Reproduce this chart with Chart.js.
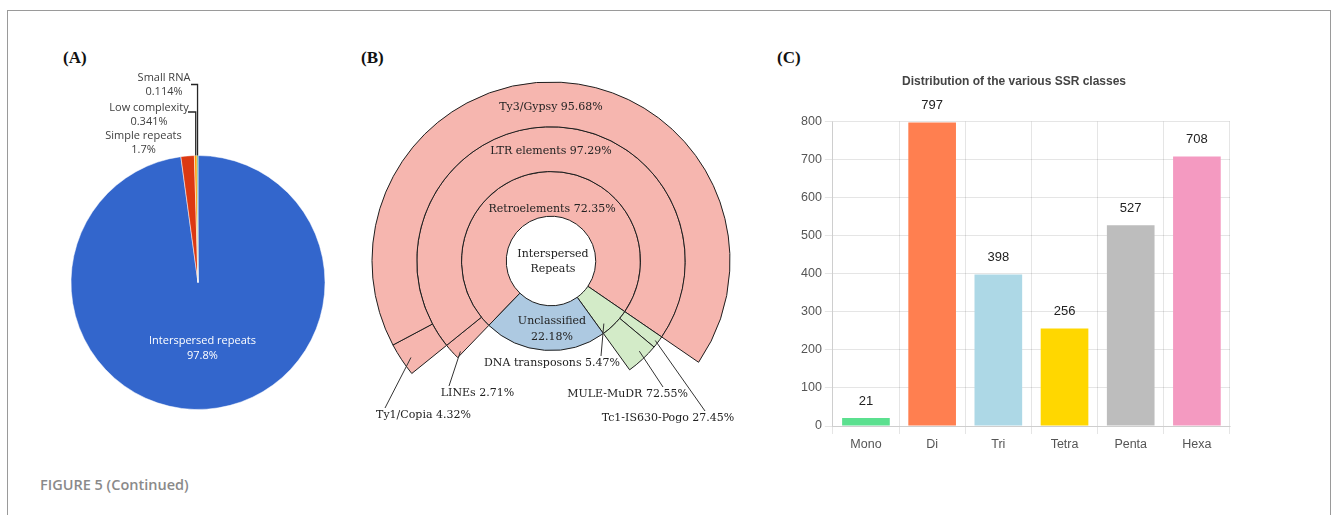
<!DOCTYPE html>
<html>
<head>
<meta charset="utf-8">
<script src="https://cdn.jsdelivr.net/npm/chart.js@4.4.1/dist/chart.umd.min.js"></script>
<style>
  html, body { margin: 0; padding: 0; background: #fff; }
  body { width: 1331px; height: 515px; position: relative; overflow: hidden; }
  .frame { position: absolute; left: 7px; top: 10px; width: 1324px; height: 520px;
           border: 1px solid #9a9a9a; border-bottom: none; box-sizing: border-box; }
  .tag { position: absolute; font: bold 17px "Liberation Serif", "Times New Roman", serif; color: #111; line-height: 20px; }
  .caption { position: absolute; left: 40px; top: 475px; font: 600 14.5px "Open Sans", sans-serif; color: #8a8a8a; }
  canvas { position: absolute; }
</style>
</head>
<body>
<div class="frame"></div>
<div class="tag" style="left:63px;top:48px;">(A)</div>
<div class="tag" style="left:361px;top:48px;">(B)</div>
<div class="tag" style="left:777px;top:48px;">(C)</div>
<div class="caption">FIGURE 5 (Continued)</div>

<canvas id="pieA" width="330" height="440" style="left:10px;top:40px;"></canvas>
<canvas id="sunB" width="395" height="440" style="left:355px;top:40px;"></canvas>
<canvas id="barC" width="470" height="410" style="left:780px;top:62px;"></canvas>

<script>
// ---------- (A) repeat composition ----------
const repeatClasses = ['Interspersed repeats', 'Simple repeats', 'Low complexity', 'Small RNA'];
const repeatShares  = [97.8, 1.7, 0.341, 0.114];
const repeatColors  = ['#3366cc', '#dc3912', '#ff9900', '#109618'];

// ---------- (B) interspersed repeat hierarchy ----------
const classNames = ['Retroelements', 'DNA transposons', 'Unclassified'];
const classPct   = [72.35, 5.47, 22.18];
const retroNames = ['LINEs', 'LTR elements'];
const retroPct   = [2.71, 97.29];
const dnaNames   = ['Tc1-IS630-Pogo', 'MULE-MuDR'];
const dnaPct     = [27.45, 72.55];
const ltrNames   = ['Ty1/Copia', 'Ty3/Gypsy'];
const ltrPct     = [4.32, 95.68];

// ---------- (C) SSR classes ----------
const ssrClasses = ['Mono', 'Di', 'Tri', 'Tetra', 'Penta', 'Hexa'];
const ssrCounts  = [21, 797, 398, 256, 527, 708];
const ssrColors  = ['#5be08f', '#ff7f50', '#add8e6', '#ffd700', '#bdbdbd', '#f49ac1'];

const pct = v => String(v) + '%';
const pct2 = v => v.toFixed(2) + '%';

function arcProps(chart, ds, i) {
  return chart.getDatasetMeta(ds).data[i].getProps(
    ['x', 'y', 'startAngle', 'endAngle', 'innerRadius', 'outerRadius'], true);
}

// ----- Panel A -----
const pieLabels = {
  id: 'pieLabels',
  afterDatasetsDraw(chart) {
    const ctx = chart.ctx;
    ctx.save();
    ctx.font = '11px "Open Sans", sans-serif';
    ctx.textAlign = 'center';
    ctx.textBaseline = 'middle';

    // main slice label inside the pie
    const a0 = arcProps(chart, 0, 0);
    const m0 = (a0.startAngle + a0.endAngle) / 2;
    const r0 = a0.outerRadius * 0.52;
    const cx = a0.x + Math.cos(m0) * r0, cy = a0.y + Math.sin(m0) * r0;
    ctx.fillStyle = '#ffffff';
    ctx.fillText(repeatClasses[0], cx, cy - 8);
    ctx.fillText(pct(repeatShares[0]), cx, cy + 7);

    // small slices: stacked callouts above the pie
    const callouts = [
      { i: 3, x: 154, y: 38, hx: 181, hy: 44.5 },
      { i: 2, x: 139, y: 68, hx: 178, hy: 72 },
      { i: 1, x: 133.5, y: 96, hx: null }
    ];
    callouts.forEach(c => {
      ctx.fillStyle = '#404040';
      ctx.fillText(repeatClasses[c.i], c.x, c.y);
      ctx.fillText(pct(repeatShares[c.i]), c.x, c.y + 14);
      if (c.hx !== null) {
        const a = arcProps(chart, 0, c.i);
        const m = (a.startAngle + a.endAngle) / 2;
        const px = a.x + Math.cos(m) * a.outerRadius;
        const py = a.y + Math.sin(m) * a.outerRadius;
        ctx.strokeStyle = '#262626';
        ctx.lineWidth = 1.3;
        ctx.beginPath();
        ctx.moveTo(c.hx, c.hy);
        ctx.lineTo(px, c.hy);
        ctx.lineTo(px, py);
        ctx.stroke();
      }
    });
    ctx.restore();
  }
};

new Chart(document.getElementById('pieA'), {
  type: 'pie',
  data: {
    labels: repeatClasses,
    datasets: [{
      data: repeatShares,
      backgroundColor: repeatColors,
      borderColor: '#ffffff',
      borderWidth: 0.5
    }]
  },
  options: {
    responsive: false,
    animation: false,
    events: [],
    radius: 127,
    layout: { padding: { left: 46, right: 0, top: 45, bottom: 0 } },
    plugins: { legend: { display: false }, tooltip: { enabled: false } }
  },
  plugins: [pieLabels]
});

// ----- Panel B -----
const PINK = '#f6b6af', GREEN = '#d3ebc8', BLUE = '#adc9e1', NONE = 'rgba(0,0,0,0)';
const retroShare = classPct[0], dnaShare = classPct[1], unclShare = classPct[2];
const lineShare = retroShare * retroPct[0] / 100;
const ltrShare  = retroShare * retroPct[1] / 100;

const ringClass = {
  names: classNames,
  data: classPct,
  backgroundColor: [PINK, GREEN, BLUE],
  borderWidth: [1, 1, 1]
};
const ringOrder = {
  names: [retroNames[0], retroNames[1], dnaNames[0], dnaNames[1], null],
  data: [lineShare, ltrShare, dnaShare * dnaPct[0] / 100, dnaShare * dnaPct[1] / 100, unclShare],
  backgroundColor: [PINK, PINK, GREEN, GREEN, NONE],
  borderWidth: [1, 1, 1, 1, 0]
};
const ringSuper = {
  names: [null, ltrNames[0], ltrNames[1], null],
  data: [lineShare, ltrShare * ltrPct[0] / 100, ltrShare * ltrPct[1] / 100, dnaShare + unclShare],
  backgroundColor: [NONE, PINK, PINK, NONE],
  borderWidth: [0, 1, 1, 0]
};
// white hub; its outline comes from the inner edge of the class ring
const ringCore = {
  names: ['Interspersed Repeats'],
  data: [100],
  backgroundColor: ['#ffffff'],
  borderWidth: [0]
};

function findArc(chart, name) {
  const sets = chart.data.datasets;
  for (let d = 0; d < sets.length; d++) {
    const k = sets[d].names.indexOf(name);
    if (k >= 0) return arcProps(chart, d, k);
  }
  return null;
}

const sunLabels = {
  id: 'sunLabels',
  afterDatasetsDraw(chart) {
    const ctx = chart.ctx;
    const c = arcProps(chart, 3, 0);
    ctx.save();
    ctx.font = '11px "DejaVu Serif", serif';
    ctx.textAlign = 'center';
    ctx.textBaseline = 'middle';
    ctx.fillStyle = '#222';

    // labels inside the rings
    ctx.fillText(ltrNames[1] + ' ' + pct2(ltrPct[1]), c.x, c.y - 154);
    ctx.fillText(retroNames[1] + ' ' + pct2(retroPct[1]), c.x, c.y - 110);
    ctx.fillText(classNames[0] + ' ' + pct2(classPct[0]), c.x + 1, c.y - 52);
    ctx.fillText('Interspersed', c.x + 2, c.y - 7);
    ctx.fillText('Repeats', c.x + 2, c.y + 8);
    ctx.fillText(classNames[2], c.x + 1, c.y + 60);
    ctx.fillText(pct2(classPct[2]), c.x + 1, c.y + 76);

    // callouts outside the rings
    const callouts = [
      { name: ltrNames[0],   text: ltrNames[0] + ' ' + pct2(ltrPct[0]),     tx: 68.5,  ty: 375, sx: 30,  sy: 368, fa: 0.40, fr: 0.80 },
      { name: retroNames[0], text: retroNames[0] + ' ' + pct2(retroPct[0]), tx: 122.5, ty: 353, sx: 94,  sy: 346, fa: 0.15, fr: 0.86 },
      { name: classNames[1], text: classNames[1] + ' ' + pct2(classPct[1]), tx: 197,   ty: 323, sx: 246, sy: 316, fa: 0.78, fr: 0.83 },
      { name: dnaNames[1],   text: dnaNames[1] + ' ' + pct2(dnaPct[1]),     tx: 272.5, ty: 354, sx: 308, sy: 347, fa: 0.40, fr: 0.82 },
      { name: dnaNames[0],   text: dnaNames[0] + ' ' + pct2(dnaPct[0]),     tx: 313,   ty: 378, sx: 350, sy: 371, fa: 0.53, fr: 0.93 }
    ];
    ctx.strokeStyle = '#333';
    ctx.lineWidth = 1;
    callouts.forEach(o => {
      const a = findArc(chart, o.name);
      const ang = a.startAngle + (a.endAngle - a.startAngle) * o.fa;
      const rad = a.innerRadius + (a.outerRadius - a.innerRadius) * o.fr;
      ctx.beginPath();
      ctx.moveTo(o.sx, o.sy);
      ctx.lineTo(a.x + Math.cos(ang) * rad, a.y + Math.sin(ang) * rad);
      ctx.stroke();
      ctx.fillText(o.text, o.tx, o.ty);
    });
    ctx.restore();
  }
};

new Chart(document.getElementById('sunB'), {
  type: 'doughnut',
  data: {
    labels: ['a', 'b', 'c', 'd', 'e'],
    datasets: [ringSuper, ringOrder, ringClass, ringCore].map(r => Object.assign({
      borderColor: '#1e1e1e'
    }, r))
  },
  options: {
    responsive: false,
    animation: false,
    events: [],
    cutout: 0,
    radius: 179,
    rotation: 224,
    layout: { padding: { left: 0, right: 3, top: 2, bottom: 0 } },
    plugins: { legend: { display: false }, tooltip: { enabled: false } }
  },
  plugins: [sunLabels]
});

// ----- Panel C -----
const barValueLabels = {
  id: 'barValueLabels',
  afterDatasetsDraw(chart) {
    const ctx = chart.ctx;
    const meta = chart.getDatasetMeta(0);
    ctx.save();
    ctx.font = '13px "Liberation Sans", Arial, sans-serif';
    ctx.fillStyle = '#222';
    ctx.textAlign = 'center';
    ctx.textBaseline = 'middle';
    meta.data.forEach((bar, i) => {
      ctx.fillText(String(ssrCounts[i]), bar.x, bar.y - 17);
    });
    ctx.restore();
  }
};

new Chart(document.getElementById('barC'), {
  type: 'bar',
  data: {
    labels: ssrClasses,
    datasets: [{ data: ssrCounts, backgroundColor: ssrColors }]
  },
  options: {
    responsive: false,
    animation: false,
    events: [],
    layout: { padding: { left: 18, right: 20, top: 2, bottom: 17 } },
    plugins: {
      legend: { display: false },
      tooltip: { enabled: false },
      title: {
        display: true,
        text: 'Distribution of the various SSR classes',
        color: '#444',
        font: { family: '"Liberation Sans", Arial, sans-serif', size: 12, weight: 'bold' },
        padding: { top: 10, bottom: 33 }
      }
    },
    scales: {
      x: {
        ticks: { color: '#555', font: { family: '"Liberation Sans", Arial, sans-serif', size: 12.5 } },
        grid: { color: 'rgba(0,0,0,0.1)' }
      },
      y: {
        min: 0, max: 800,
        ticks: { stepSize: 100, color: '#555', font: { family: '"Liberation Sans", Arial, sans-serif', size: 12.5 } },
        grid: { color: 'rgba(0,0,0,0.1)' }
      }
    }
  },
  plugins: [barValueLabels]
});
</script>
</body>
</html>
